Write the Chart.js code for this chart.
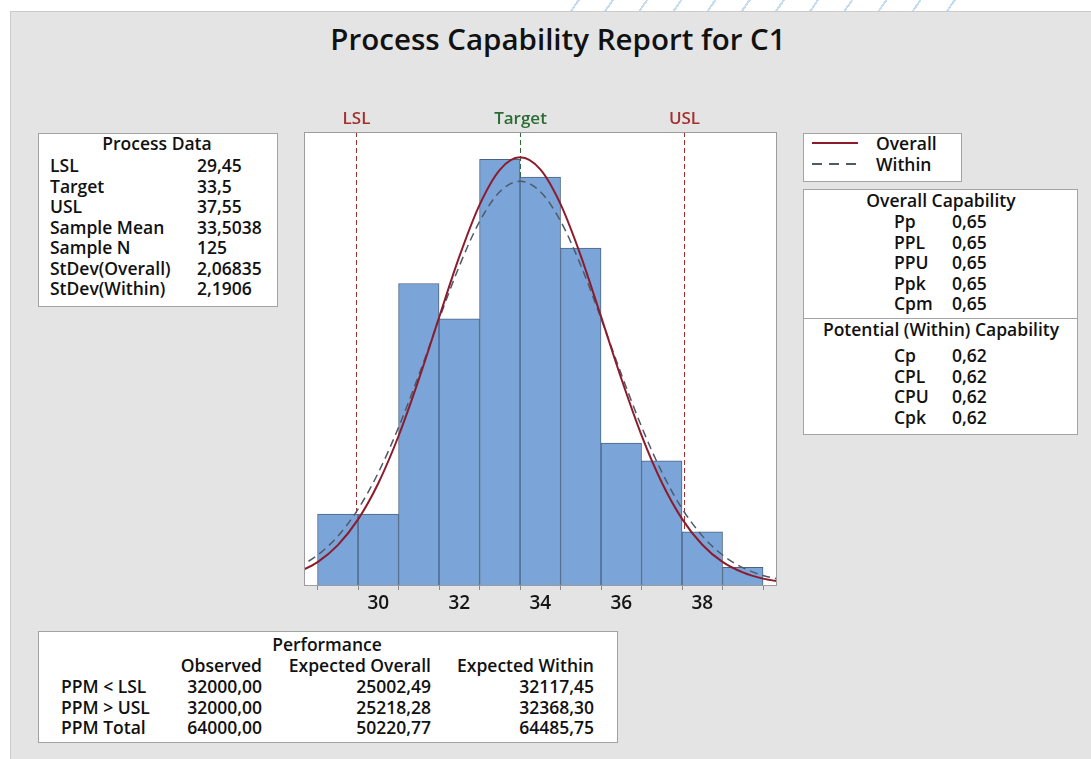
<!DOCTYPE html>
<html>
<head>
<meta charset="utf-8">
<script src="https://cdn.jsdelivr.net/npm/chart.js@4.4.1/dist/chart.umd.min.js"></script>
<style>
body{margin:0;width:1091px;height:759px;background:#fff;position:relative;overflow:hidden;font-family:"Open Sans",sans-serif;color:#111;}
#stripe{position:absolute;left:560px;top:0;width:420px;height:11px;background:repeating-linear-gradient(-55deg,transparent 0 26px,#c4dcef 26px 28px);}
#panel{position:absolute;left:10px;top:11px;right:0;bottom:0;background:#e4e4e4;border-top:1px solid #cbcbcb;border-left:1px solid #cbcbcb;}
.box{position:absolute;background:#fff;border:1px solid #a3a3a3;box-sizing:border-box;}
.t{position:absolute;white-space:nowrap;font-size:17.5px;font-weight:600;line-height:20px;height:20px;}
#title{position:absolute;left:558px;top:24px;transform:translateX(-50%);font-size:29.5px;line-height:30px;font-weight:600;white-space:nowrap;color:#111;}
#plotWrap{position:absolute;left:290px;top:100px;width:500px;height:520px;}
.dash{position:absolute;height:2px;background:repeating-linear-gradient(90deg,#4f5a66 0 10px,transparent 10px 17px);}
</style>
</head>
<body>
<div id="stripe"></div>
<div id="panel"></div>
<div id="title">Process Capability Report for C1</div>

<div class="box" style="left:38px;top:133px;width:240px;height:174px;"></div>
<div class="box" style="left:803px;top:133px;width:159px;height:49px;"></div>
<div class="box" style="left:803px;top:189px;width:275px;height:246px;"></div>
<div style="position:absolute;left:803px;top:318px;width:275px;height:1px;background:#a3a3a3;"></div>
<div class="box" style="left:38px;top:631px;width:580px;height:112px;"></div>

<div style="position:absolute;left:812px;top:142px;width:46px;border-top:2px solid #8c1c2c;"></div>
<div class="dash" style="left:812px;top:163px;width:46px;"></div>

<div id="plotWrap"><canvas id="capChart" width="500" height="520"></canvas></div>

<script>
// histogram bins (bin centre, count)
var binCenters = [29, 30, 31, 32, 33, 34, 35, 36, 37, 38, 39];
var binCounts = [4, 4, 17, 15, 24, 23, 19, 8, 7, 3, 1];

// fitted normal curves
var curveX = [28, 28.5, 29, 29.5, 30, 30.5, 31, 31.5, 32, 32.5, 33, 33.5, 34, 34.5, 35, 35.5, 36, 36.5, 37, 37.5, 38, 38.5, 39, 39.5, 40];
var overallFit = [0.70, 1.29, 2.25, 3.70, 5.74, 8.40, 11.59, 15.08, 18.51, 21.43, 23.41, 24.11, 23.43, 21.47, 18.56, 15.13, 11.64, 8.44, 5.78, 3.73, 2.27, 1.30, 0.71, 0.36, 0.17];
var withinFit = [0.97, 1.68, 2.75, 4.28, 6.33, 8.89, 11.84, 14.98, 17.98, 20.49, 22.17, 22.76, 22.18, 20.52, 18.02, 15.03, 11.89, 8.93, 6.37, 4.31, 2.77, 1.69, 0.98, 0.54, 0.28];

// spec limits
var specNames = ["LSL", "Target", "USL"];
var specValues = [29.45, 33.5, 37.55];
var specColors = ["#a3302f", "#2c6b33", "#a3302f"];

// x tick labels
var tickValues = [30, 32, 34, 36, 38];

// side tables
var processLabels = ["LSL", "Target", "USL", "Sample Mean", "Sample N", "StDev(Overall)", "StDev(Within)"];
var processValues = ["29,45", "33,5", "37,55", "33,5038", "125", "2,06835", "2,1906"];
var overallCapLabels = ["Pp", "PPL", "PPU", "Ppk", "Cpm"];
var overallCapValues = ["0,65", "0,65", "0,65", "0,65", "0,65"];
var withinCapLabels = ["Cp", "CPL", "CPU", "Cpk"];
var withinCapValues = ["0,62", "0,62", "0,62", "0,62"];
var perfColumns = ["Observed", "Expected Overall", "Expected Within"];
var perfRows = ["PPM < LSL", "PPM > USL", "PPM Total"];
var perfObserved = ["32000,00", "32000,00", "64000,00"];
var perfExpOverall = ["25002,49", "25218,28", "50220,77"];
var perfExpWithin = ["32117,45", "32368,30", "64485,75"];

function addText(text, x, y, align) {
	var d = document.createElement("div");
	d.className = "t";
	d.textContent = text;
	d.style.left = x + "px";
	d.style.top = (y - 10) + "px";
	if (align == "center") d.style.transform = "translateX(-50%)";
	if (align == "right") d.style.transform = "translateX(-100%)";
	document.body.appendChild(d);
}

// Process Data
addText("Process Data", 157, 143, "center");
var rowY = [165, 185.5, 206, 226.5, 247, 267.5, 288];
for (var i in processLabels) {
	addText(processLabels[i], 50, rowY[i]);
	addText(processValues[i], 197, rowY[i]);
}

// legend
addText("Overall", 876, 143);
addText("Within", 876, 164);

// capability
addText("Overall Capability", 941, 200, "center");
var capY = [221, 241.5, 262, 282.5, 303];
for (var i in overallCapLabels) {
	addText(overallCapLabels[i], 894, capY[i]);
	addText(overallCapValues[i], 952, capY[i]);
}
addText("Potential (Within) Capability", 941, 329, "center");
var potY = [355, 375.5, 396, 416.5];
for (var i in withinCapLabels) {
	addText(withinCapLabels[i], 894, potY[i]);
	addText(withinCapValues[i], 952, potY[i]);
}

// performance
addText("Performance", 327, 644, "center");
var colRight = [262, 431, 594];
for (var i in perfColumns) {
	addText(perfColumns[i], colRight[i], 665, "right");
}
var perfY = [686, 706.5, 727];
for (var i in perfRows) {
	addText(perfRows[i], 61, perfY[i]);
	addText(perfObserved[i], colRight[0], perfY[i], "right");
	addText(perfExpOverall[i], colRight[1], perfY[i], "right");
	addText(perfExpWithin[i], colRight[2], perfY[i], "right");
}

var histData = [];
for (var i in binCenters) histData.push({x: binCenters[i], y: binCounts[i]});
var overallData = [];
var withinData = [];
for (var i in curveX) {
	overallData.push({x: curveX[i], y: overallFit[i]});
	withinData.push({x: curveX[i], y: withinFit[i]});
}

// white plot area, spec lines behind the bars, labels and frame on top
var plotDecor = {
	id: "plotDecor",
	beforeDatasetsDraw: function(chart) {
		var a = chart.chartArea;
		var ctx = chart.ctx;
		var xs = chart.scales.x;
		ctx.save();
		ctx.fillStyle = "#ffffff";
		ctx.fillRect(a.left, a.top, a.right - a.left, a.bottom - a.top);
		for (var i in specValues) {
			var px = Math.round(xs.getPixelForValue(specValues[i])) + 0.5;
			ctx.strokeStyle = specColors[i];
			ctx.lineWidth = 1;
			ctx.setLineDash([5, 3]);
			ctx.beginPath();
			ctx.moveTo(px, a.top);
			ctx.lineTo(px, a.bottom);
			ctx.stroke();
		}
		ctx.restore();
	},
	afterDatasetsDraw: function(chart) {
		var a = chart.chartArea;
		var ctx = chart.ctx;
		var xs = chart.scales.x;
		ctx.save();
		for (var i in specValues) {
			var px = Math.round(xs.getPixelForValue(specValues[i])) + 0.5;
			ctx.fillStyle = specColors[i];
			ctx.font = "600 17px 'Open Sans'";
			ctx.textAlign = "center";
			ctx.textBaseline = "middle";
			ctx.fillText(specNames[i], px, a.top - 13);
		}
		ctx.strokeStyle = "#9c9c9c";
		ctx.lineWidth = 1;
		ctx.strokeRect(a.left + 0.5, a.top + 0.5, a.right - a.left - 1, a.bottom - a.top);
		ctx.restore();
	}
};

var ctx = document.getElementById("capChart").getContext("2d");
new Chart(ctx, {
	type: "bar",
	data: {
		datasets: [
			{
				type: "line",
				label: "Overall",
				data: overallData,
				borderColor: "#8c1c2c",
				borderWidth: 2,
				pointRadius: 0,
				cubicInterpolationMode: "monotone",
				order: 0
			},
			{
				type: "line",
				label: "Within",
				data: withinData,
				borderColor: "#4f5a66",
				borderWidth: 1.5,
				borderDash: [8, 5],
				pointRadius: 0,
				cubicInterpolationMode: "monotone",
				order: 1
			},
			{
				type: "bar",
				label: "C1",
				data: histData,
				backgroundColor: "#7ba4d8",
				borderColor: "#4b6482",
				borderWidth: 1,
				barPercentage: 1,
				categoryPercentage: 1,
				order: 2
			}
		]
	},
	options: {
		responsive: false,
		animation: false,
		layout: {
			padding: {left: 14, right: 13, top: 32, bottom: 0}
		},
		plugins: {
			legend: {display: false},
			tooltip: {enabled: false}
		},
		scales: {
			x: {
				type: "linear",
				min: 28.165,
				max: 39.845,
				offset: false,
				border: {display: false},
				grid: {
					drawOnChartArea: false,
					drawTicks: true,
					tickLength: 5,
					tickColor: "#8a8a8a"
				},
				afterBuildTicks: function(scale) {
					var t = [];
					for (var v = 29; v <= 39; v++) t.push({value: v});
					scale.ticks = t;
				},
				ticks: {
					autoSkip: false,
					maxRotation: 0,
					padding: 2,
					color: "#151515",
					font: {family: "Open Sans", size: 19, weight: "600"},
					callback: function(value) {
						return tickValues.indexOf(value) >= 0 ? String(value) : "";
					}
				},
				afterFit: function(scale) {
					scale.height = 35;
				}
			},
			y: {
				display: false,
				min: 0,
				max: 25.54
			}
		}
	},
	plugins: [plotDecor]
});
</script>
</body>
</html>
